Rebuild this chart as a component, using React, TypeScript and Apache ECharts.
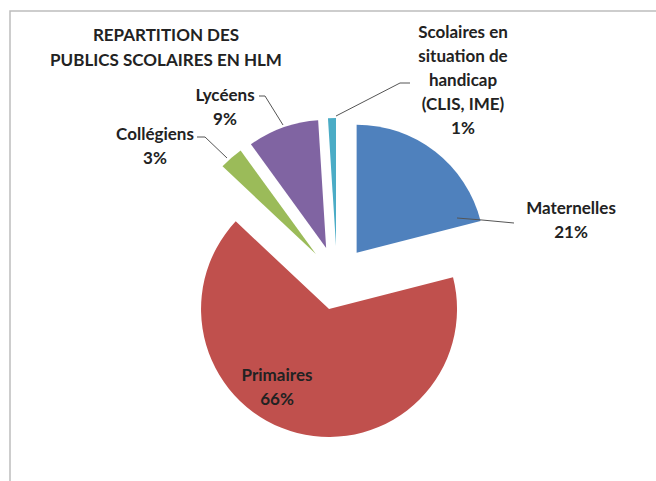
import React, { useEffect, useRef } from "react";
import * as echarts from "echarts";

const categories = [
  "Maternelles",
  "Primaires",
  "Collégiens",
  "Lycéens",
  "Scolaires en\nsituation de\nhandicap\n(CLIS, IME)",
];
const values = [21, 66, 3, 9, 1];
const colors = ["#4F81BD", "#C0504D", "#9BBB59", "#8064A2", "#4BACC6"];

const titleLines = ["REPARTITION DES", "PUBLICS SCOLAIRES EN HLM"];

// label layout (centres of the text blocks and leader lines)
const labelLayouts = [
  { x: 571, y: 219, line: [[457, 218], [482, 220], [514, 223]] },
  { x: 277, y: 386, line: null },
  { x: 155, y: 145, line: [[227, 158], [205, 137], [197, 137]] },
  { x: 225, y: 106, line: [[283, 125], [265, 96], [259, 96]] },
  { x: 463, y: 79, line: [[336, 116], [400, 83], [410, 83]] },
];

export default function App() {
  const ref = useRef<HTMLDivElement>(null);
  useEffect(() => {
    if (!ref.current) return;
    const chart = echarts.init(ref.current, undefined, { renderer: "svg" });
    const font = "Lato, 'Open Sans', sans-serif";
    const total = values.reduce((a, b) => a + b, 0);
    const labelGraphics: any[] = [];
    categories.forEach((c, i) => {
      const l = labelLayouts[i];
      const pct = Math.round((values[i] / total) * 100);
      labelGraphics.push({
        type: "text",
        x: l.x,
        y: l.y,
        z: 10,
        style: {
          text: `${c}\n${pct}%`,
          fill: "#222",
          font: `bold 17px ${font}`,
          lineHeight: 24,
          textAlign: "center",
          textVerticalAlign: "middle",
        },
      });
      if (l.line) {
        labelGraphics.push({
          type: "polyline",
          z: 10,
          shape: { points: l.line },
          style: { stroke: "#555", lineWidth: 1, fill: "none" },
        });
      }
    });
    chart.setOption({
      animation: false,
      backgroundColor: "#ffffff",
      graphic: [
        {
          type: "rect",
          shape: { x: 10, y: 11, width: 720, height: 520 },
          style: { fill: "none", stroke: "#bdbdbd", lineWidth: 1.5 },
          silent: true,
        },
        ...titleLines.map((t, i) => ({
          type: "text",
          x: 166,
          y: 34 + i * 25,
          style: {
            text: t,
            fill: "#222",
            font: `bold 17px ${font}`,
            textAlign: "center",
            textVerticalAlign: "middle",
          },
        })),
        ...labelGraphics,
      ],
      series: [
        {
          type: "pie",
          center: [337, 278],
          radius: [0, 128],
          startAngle: 90,
          clockwise: true,
          selectedMode: "multiple",
          selectedOffset: 32,
          avoidLabelOverlap: false,
          emphasis: { disabled: true },
          label: { show: false },
          labelLine: { show: false },
          data: categories.map((c, i) => ({
            name: c,
            value: values[i],
            selected: true,
            itemStyle: { color: colors[i] },
          })),
        },
      ],
    });
    return () => chart.dispose();
  }, []);
  return (
    <div
      ref={ref}
      style={{ position: "fixed", left: 0, top: 0, width: 656, height: 481 }}
    />
  );
}
